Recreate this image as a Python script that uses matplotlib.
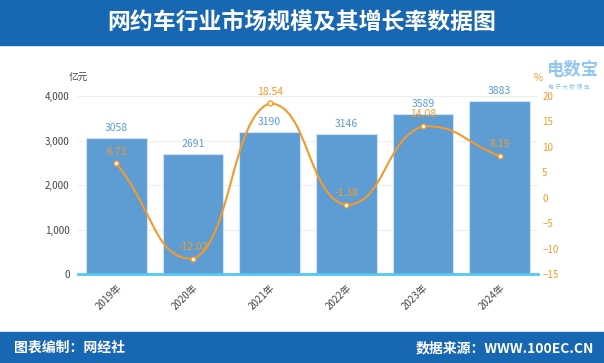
import matplotlib.pyplot as plt
from matplotlib.path import Path
from matplotlib.patches import PathPatch, Rectangle

plt.rcParams['font.family'] = ['Noto Sans CJK SC', 'DejaVu Sans']

years = ['2019年', '2020年', '2021年', '2022年', '2023年', '2024年']
scale = [3058, 2691, 3190, 3146, 3589, 3883]       # 亿元
growth = [6.73, -12.02, 18.54, -1.38, 14.08, 8.19]  # %

blue_bar = '#5E9DD4'
orange = '#F39A2B'
head = '#1767B3'

fig = plt.figure(figsize=(6.04, 3.63), dpi=100)

# title bar and footer bar
fig.patches.append(Rectangle((0, 1 - 45/363), 1, 45/363, transform=fig.transFigure,
                             color=head, zorder=0))
fig.patches.append(Rectangle((0, 0), 1, 31/363, transform=fig.transFigure,
                             color=head, zorder=0))
fig.text(0.5, 1 - 22/363, '网约车行业市场规模及其增长率数据图', color='white',
         fontsize=16.5, fontweight='bold', ha='center', va='center')
fig.text(14/604, 15/363, '图表编制：网经社', color='white', fontsize=10,
         fontweight='bold', ha='left', va='center')
fig.text(594/604, 15/363, '数据来源：WWW.100EC.CN', color='white', fontsize=10,
         fontweight='bold', ha='right', va='center')

ax = fig.add_axes([78/604, (363-274)/363, 460/604, 178/363])
x = list(range(len(years)))
ax.bar(x, scale, width=0.79, color=blue_bar, edgecolor='#CFE3F5', linewidth=0.8, zorder=2)
for xi, v in zip(x, scale):
    ax.text(xi, v + 120, str(v), color='#5B9BD5', fontsize=7.5, ha='center', va='bottom')

ax.set_xlim(-0.5, len(years) - 0.5)
ax.set_ylim(0, 4000)
ax.set_yticks([0, 1000, 2000, 3000, 4000])
ax.set_yticklabels(['0', '1,000', '2,000', '3,000', '4,000'])
ax.yaxis.grid(True, color='#EEEEEE', linewidth=0.8, zorder=0)
ax.set_axisbelow(True)
ax.set_xticks(x)
ax.set_xticklabels(years, rotation=45, ha='right', rotation_mode='anchor')
ax.tick_params(axis='both', length=0, labelsize=7, labelcolor='#444444')
ax.tick_params(axis='y', pad=6)
ax.tick_params(axis='x', pad=6)
for s in ['top', 'left', 'right']:
    ax.spines[s].set_visible(False)
ax.spines['bottom'].set_color('#52C8F2')
ax.spines['bottom'].set_linewidth(2)
ax.spines['bottom'].set_zorder(3)

ax2 = ax.twinx()
ax2.set_ylim(-15, 20)
ax2.set_yticks([-15, -10, -5, 0, 5, 10, 15, 20])
ax2.tick_params(axis='y', length=0, labelsize=7, labelcolor=orange, pad=3)
for s in ax2.spines.values():
    s.set_visible(False)

# smooth curve through the points using bezier segments
sm = 0.5
cps = []
n = len(growth)
for i in range(n):
    px, py = x[i], growth[i]
    ppx, ppy = (x[i-1], growth[i-1]) if i > 0 else (px, py)
    nx, ny = (x[i+1], growth[i+1]) if i < n - 1 else (px, py)
    vx, vy = nx - ppx, ny - ppy
    d0 = abs(px - ppx)
    d1 = abs(nx - px)
    r = d0 / (d0 + d1)
    c0 = [px - vx * sm * r, py - vy * sm * r]
    c1 = [px + vx * sm * (1 - r), py + vy * sm * (1 - r)]
    c0[1] = min(max(c0[1], min(py, ppy)), max(py, ppy))
    c1[1] = min(max(c1[1], min(py, ny)), max(py, ny))
    cps.append((c0, c1))

verts = [(x[0], growth[0])]
codes = [Path.MOVETO]
for i in range(n - 1):
    verts += [tuple(cps[i][1]), tuple(cps[i+1][0]), (x[i+1], growth[i+1])]
    codes += [Path.CURVE4] * 3
ax2.add_patch(PathPatch(Path(verts, codes), fill=False, edgecolor=orange, linewidth=1.5, zorder=3))
ax2.plot(x, growth, 'o', color=orange, markerfacecolor='white', markersize=3.5,
         markeredgewidth=1, zorder=4)
for xi, g in zip(x, growth):
    ax2.text(xi, g + 1.3, f'{g:.2f}', color=orange, fontsize=7.5, ha='center', va='bottom')

fig.text(69/604, 1 - 78/363, '亿元', fontsize=7, color='#444444', ha='left', va='center')
fig.text(534/604, 1 - 78/363, '%', fontsize=7, color=orange, ha='left', va='center')

# watermark
fig.text(546/604, 1 - 70/363, '电数宝', fontsize=12.5, color='#6DB3EE', alpha=0.75,
         ha='left', va='center', fontweight='bold')
fig.text(548/604, 1 - 86/363, '电 子 大 数 据 库', fontsize=4.2, color='#6DB3EE',
         alpha=0.75, ha='left', va='center')

fig.savefig('out.png', dpi=100)
